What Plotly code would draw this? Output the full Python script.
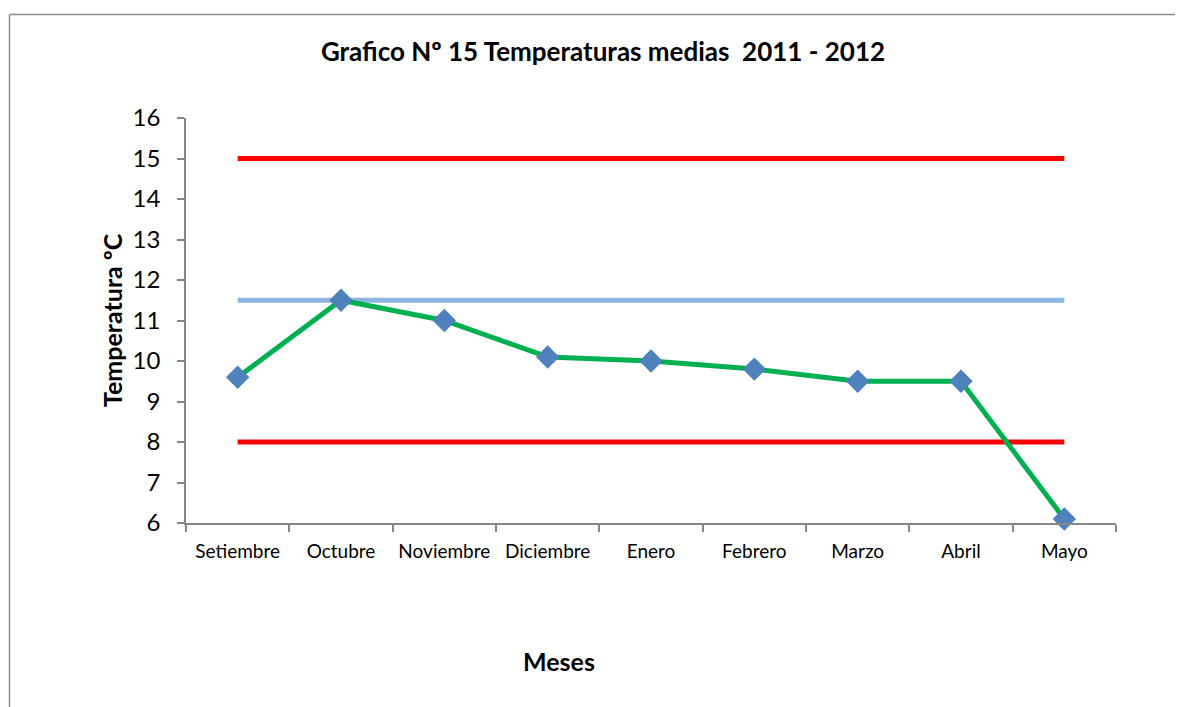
import plotly.graph_objects as go

meses = ["Setiembre", "Octubre", "Noviembre", "Diciembre", "Enero",
         "Febrero", "Marzo", "Abril", "Mayo"]
temperatura = [9.6, 11.5, 11.0, 10.1, 10.0, 9.8, 9.5, 9.5, 6.1]
limite_superior = [15, 15, 15, 15, 15, 15, 15, 15, 15]
media = [11.5, 11.5, 11.5, 11.5, 11.5, 11.5, 11.5, 11.5, 11.5]
limite_inferior = [8, 8, 8, 8, 8, 8, 8, 8, 8]
y_ticks = [6, 7, 8, 9, 10, 11, 12, 13, 14, 15, 16]

FONT = "Lato"
AXIS_GRAY = "#868686"
OFF = 8  # default page margin
W, H = 1183 - OFF, 707 - OFF

fig = go.Figure()
fig.add_trace(go.Scatter(x=meses, y=limite_superior, mode="lines",
                         line=dict(color="#FF0000", width=5), showlegend=False))
fig.add_trace(go.Scatter(x=meses, y=limite_inferior, mode="lines",
                         line=dict(color="#FF0000", width=5), showlegend=False))
fig.add_trace(go.Scatter(x=meses, y=media, mode="lines",
                         line=dict(color="#8DB4E2", width=5), showlegend=False))
fig.add_trace(go.Scatter(x=meses, y=temperatura, mode="lines+markers",
                         line=dict(color="#00B050", width=5),
                         marker=dict(symbol="diamond", size=18, color="#4F81BD",
                                     line=dict(width=0)),
                         cliponaxis=False, showlegend=False))

fig.update_layout(
    width=W, height=H,
    margin=dict(l=186 - OFF, r=1183 - 1116, t=118 - OFF, b=707 - 523),
    paper_bgcolor="white", plot_bgcolor="white",
    font=dict(family=FONT, color="black"),
    title=dict(text="<b>Grafico Nº 15 Temperaturas medias  2011 - 2012</b>",
               x=(603 - OFF) / W, xanchor="center", xref="container",
               y=1 - (52 - OFF) / H, yanchor="middle", yref="container",
               font=dict(size=26, family=FONT, color="black")),
    xaxis=dict(type="category", range=[-0.5, 8.5], tickson="boundaries",
               ticks="outside", ticklen=7, tickcolor=AXIS_GRAY, tickwidth=1.5,
               showline=True, linecolor=AXIS_GRAY, linewidth=1.5,
               showgrid=False, zeroline=False, ticklabelstandoff=10,
               tickfont=dict(size=19, family=FONT, color="black")),
    yaxis=dict(range=[6, 16], tickvals=y_ticks, ticks="outside", ticklen=7,
               tickcolor=AXIS_GRAY, tickwidth=1.5,
               showline=True, linecolor=AXIS_GRAY, linewidth=1.5,
               showgrid=False, zeroline=False, ticklabelstandoff=12,
               tickfont=dict(size=24, family=FONT, color="black")),
    annotations=[
        dict(text="<b>Temperatura ºC</b>", xref="paper", yref="paper",
             x=(112 - 186) / 930, y=(523 - 320) / 405, textangle=-90,
             showarrow=False, xanchor="center", yanchor="middle",
             font=dict(size=25, family=FONT, color="black")),
        dict(text="<b>Meses</b>", xref="paper", yref="paper",
             x=(559 - 186) / 930, y=(523 - 661) / 405,
             showarrow=False, xanchor="center", yanchor="middle",
             font=dict(size=25, family=FONT, color="black")),
    ],
    shapes=[
        dict(type="line", xref="paper", yref="paper",
             x0=(9.5 - 186) / 930, x1=(1200 - 186) / 930,
             y0=(523 - 14.5) / 405, y1=(523 - 14.5) / 405,
             line=dict(color="#8A8A8A", width=1.5)),
        dict(type="line", xref="paper", yref="paper",
             x0=(9.5 - 186) / 930, x1=(9.5 - 186) / 930,
             y0=(523 - 14.5) / 405, y1=(523 - 720) / 405,
             line=dict(color="#8A8A8A", width=1.5)),
    ],
)

fig.write_html("out.html")
